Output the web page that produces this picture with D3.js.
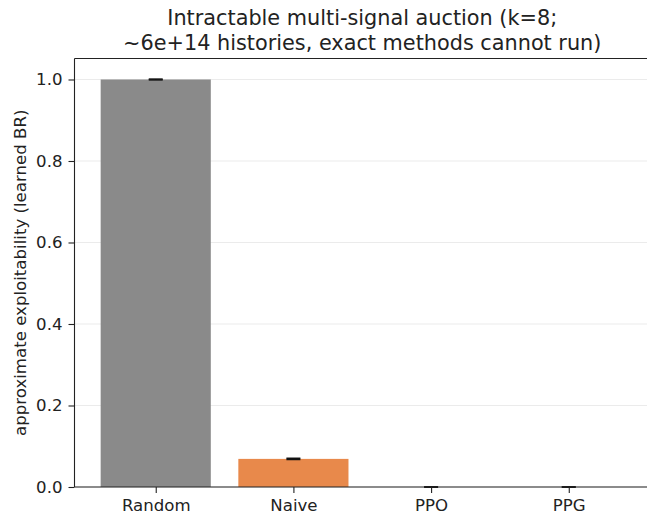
<!DOCTYPE html>
<html>
<head>
<meta charset="utf-8">
<script src="https://cdn.jsdelivr.net/npm/d3@7"></script>
<style>
  html, body { margin: 0; padding: 0; background: #fff; }
  svg { display: block; font-family: "DejaVu Sans", sans-serif; }
</style>
</head>
<body>
<svg id="chart" width="647" height="513"></svg>
<script>
const categories = ["Random", "Naive", "PPO", "PPG"];
const values = [1.0, 0.069, 0.0, 0.0];
const errors = [0.001, 0.0015, 0.0005, 0.0005];
const barColors = ["#8a8a8a", "#e8894b", "#4c72b0", "#55a868"];
const yTicks = [0.0, 0.2, 0.4, 0.6, 0.8, 1.0];
const titleLines = ["Intractable multi-signal auction (k=8;", "~6e+14 histories, exact methods cannot run)"];
const yLabel = "approximate exploitability (learned BR)";

(function () {
const svg = d3.select("#chart");
const pL = 74.5, pR = 650, pT = 58.5, pB = 487;
const tickFs = 16.6, titleFs = 20.8;

const xLin = d3.scaleLinear().domain([-0.59, 3.59]).range([pL, pR]);
const y = d3.scaleLinear().domain([0, 1.0515]).range([pB, pT]);

// grid
svg.append("g").selectAll("line").data(yTicks).join("line")
  .attr("x1", pL).attr("x2", pR)
  .attr("y1", d => y(d)).attr("y2", d => y(d))
  .attr("stroke", "#ebebeb").attr("stroke-width", 1);

// bars
const bw = 0.8;
svg.append("g").selectAll("rect").data(categories).join("rect")
  .attr("x", (d, i) => xLin(i - bw / 2))
  .attr("width", (d, i) => xLin(i + bw / 2) - xLin(i - bw / 2))
  .attr("y", (d, i) => y(values[i]))
  .attr("height", (d, i) => pB - y(values[i]))
  .attr("fill", (d, i) => barColors[i]);

// error bars
const eg = svg.append("g").attr("stroke", "#111").attr("stroke-width", 1.5);
categories.forEach((c, i) => {
  const cx = xLin(i);
  const lo = y(values[i] - errors[i]), hi = y(values[i] + errors[i]);
  eg.append("line").attr("x1", cx).attr("x2", cx).attr("y1", lo).attr("y2", hi);
  [lo, hi].forEach(yy => eg.append("line")
    .attr("x1", cx - 7).attr("x2", cx + 7).attr("y1", yy).attr("y2", yy));
});

// axes
const yAxis = d3.axisLeft(y).tickValues(yTicks).tickFormat(d3.format(".1f")).tickSize(6).tickPadding(6);
const gy = svg.append("g").attr("transform", `translate(${pL},0)`).call(yAxis);
gy.select(".domain").remove();
gy.selectAll("text").attr("font-size", tickFs).attr("fill", "#222").attr("font-family", "DejaVu Sans");
gy.selectAll("line").attr("stroke", "#222").attr("stroke-width", 1.1);

const xBand = d3.scalePoint().domain(categories).range([xLin(0), xLin(3)]);
const xAxis = d3.axisBottom(xBand).tickSize(6).tickPadding(6);
const gx = svg.append("g").attr("transform", `translate(0,${pB})`).call(xAxis);
gx.select(".domain").remove();
gx.selectAll("text").attr("font-size", tickFs).attr("fill", "#222").attr("font-family", "DejaVu Sans");
gx.selectAll("line").attr("stroke", "#222").attr("stroke-width", 1.1);

// spines
const sp = svg.append("g").attr("stroke", "#222").attr("stroke-width", 1.1).attr("fill", "none");
sp.append("line").attr("x1", pL).attr("x2", pL).attr("y1", pT).attr("y2", pB);
sp.append("line").attr("x1", pL).attr("x2", pR).attr("y1", pB).attr("y2", pB);
sp.append("line").attr("x1", pL).attr("x2", pR).attr("y1", pT).attr("y2", pT);
sp.append("line").attr("x1", pR).attr("x2", pR).attr("y1", pT).attr("y2", pB);

// title
const cxT = (pL + pR) / 2;
svg.append("text").attr("x", cxT).attr("y", 24.5).attr("text-anchor", "middle")
  .attr("font-size", titleFs).attr("fill", "#222").text(titleLines[0]);
svg.append("text").attr("x", cxT).attr("y", 50).attr("text-anchor", "middle")
  .attr("font-size", titleFs).attr("fill", "#222").text(titleLines[1]);

// y label
svg.append("text")
  .attr("transform", `translate(25.5,${(pT + pB) / 2}) rotate(-90)`)
  .attr("text-anchor", "middle").attr("font-size", tickFs).attr("fill", "#222")
  .text(yLabel);
})();
</script>
</body>
</html>
